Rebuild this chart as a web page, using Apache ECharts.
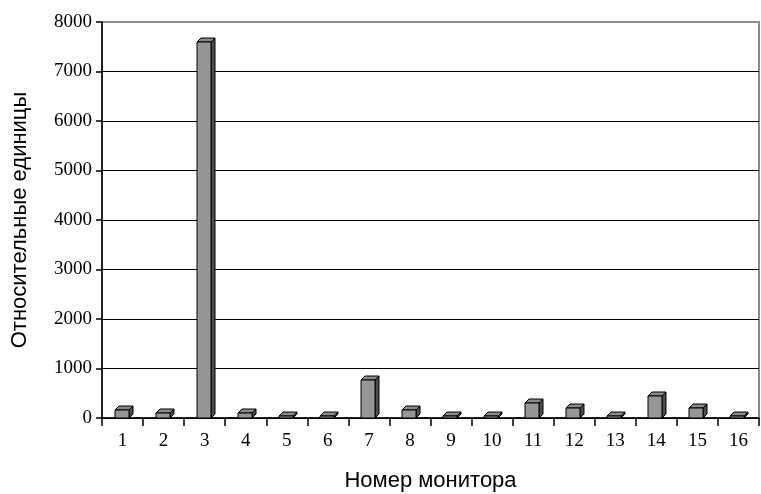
<!DOCTYPE html>
<html>
<head>
<meta charset="utf-8">
<script src="https://cdn.jsdelivr.net/npm/echarts@6/dist/echarts.min.js"></script>
<style>
  html, body { margin: 0; padding: 0; background: #fff; }
  #chart { width: 761px; height: 494px; }
</style>
</head>
<body>
<div id="chart"></div>
<script>
// Monitor numbers along the x axis
const monitors = ['1','2','3','4','5','6','7','8','9','10','11','12','13','14','15','16'];
// Readings per monitor, relative units
const readings = [160, 110, 7600, 100, 50, 50, 760, 160, 40, 40, 310, 210, 40, 440, 210, 40];
// Value axis range and step
const yMin = 0;
const yMax = 8000;
const yStep = 1000;

const chart = echarts.init(document.getElementById('chart'), null, { renderer: 'canvas' });

// Column with a lit top face and a shaded right face
function renderColumn(params, api) {
  const idx = api.value(0);
  const val = api.value(1);
  const base = api.coord([idx, 0]);
  const top = api.coord([idx, val]);
  const bandW = api.size([1, 0])[0];
  const w = Math.round(bandW * 0.35);
  const d = 4;
  const x0 = Math.round(base[0] - w / 2) - 1;
  const x1 = x0 + w;
  const yb = Math.round(base[1]);
  const yt = Math.round(top[1]);
  const stroke = { stroke: '#000', lineWidth: 1 };
  return {
    type: 'group',
    children: [
      { type: 'polygon', shape: { points: [[x1, yb], [x1 + d, yb - d], [x1 + d, yt - d], [x1, yt]] },
        style: Object.assign({ fill: '#4d4d4d' }, stroke) },
      { type: 'polygon', shape: { points: [[x0, yt], [x0 + d, yt - d], [x1 + d, yt - d], [x1, yt]] },
        style: Object.assign({ fill: '#8a8a8a' }, stroke) },
      { type: 'rect', shape: { x: x0, y: yt, width: w, height: yb - yt },
        style: Object.assign({ fill: '#969696' }, stroke) }
    ]
  };
}

chart.setOption({
  animation: false,
  backgroundColor: '#fff',
  grid: {
    left: 102, right: 2, top: 22, bottom: 76,
    outerBoundsMode: 'none',
    containLabel: false,
    show: true, borderColor: '#8c8c8c', borderWidth: 2, backgroundColor: 'transparent'
  },
  xAxis: {
    type: 'category',
    data: monitors,
    boundaryGap: true,
    name: 'Номер монитора',
    nameLocation: 'middle',
    nameGap: 52,
    nameTextStyle: { fontFamily: 'Liberation Sans', fontSize: 22, color: '#000' },
    axisLine: { lineStyle: { color: '#000', width: 1.5 } },
    axisTick: { show: true, inside: false, length: 8, alignWithLabel: false, lineStyle: { color: '#000', width: 1.5 } },
    axisLabel: { fontFamily: 'Liberation Serif', fontSize: 19, color: '#000', margin: 14 },
    splitLine: { show: false }
  },
  yAxis: {
    type: 'value',
    min: yMin, max: yMax, interval: yStep,
    name: 'Относительные единицы',
    nameLocation: 'middle',
    nameGap: 71,
    nameTextStyle: { fontFamily: 'Liberation Sans', fontSize: 22, color: '#000' },
    axisLine: { show: true, lineStyle: { color: '#000', width: 1.5 } },
    axisTick: { show: true, inside: false, length: 6, lineStyle: { color: '#000', width: 1.5 } },
    axisLabel: { fontFamily: 'Liberation Serif', fontSize: 19, color: '#000', margin: 10,
      formatter: v => String(v) },
    splitLine: { show: true, showMaxLine: false, lineStyle: { color: '#000', width: 1.2 } }
  },
  series: [{
    type: 'custom',
    renderItem: renderColumn,
    encode: { x: 0, y: 1 },
    data: readings.map((v, i) => [i, v]),
    clip: false
  }]
});
</script>
</body>
</html>
